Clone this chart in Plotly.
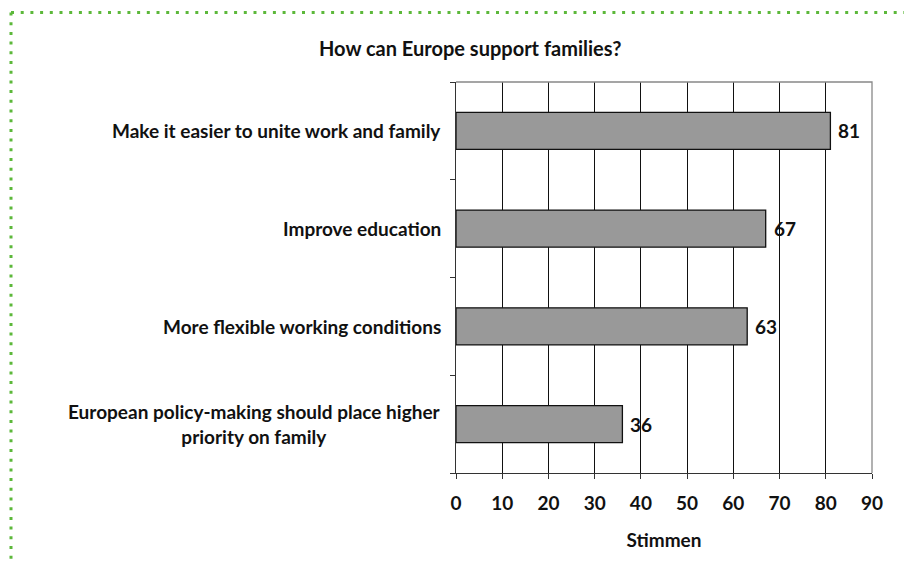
import plotly.graph_objects as go

categories = [
    "Make it easier to unite work and family",
    "Improve education",
    "More flexible working conditions",
    "European policy-making should place higher<br>priority on family",
]
values = [81, 67, 63, 36]
x_ticks = [0, 10, 20, 30, 40, 50, 60, 70, 80, 90]
title_text = "How can Europe support families?"
x_title = "Stimmen"

FONT = "Lato, 'Open Sans', sans-serif"
# page has an 8px body margin; figure sized to fill the rest of the window
W, H = 904, 557
L, R, T, B = 448, 40, 74, 92
plot_w = W - L - R
plot_h = H - T - B

def px_x(px):
    return (px - L) / plot_w

def px_y(py):
    return 1 - (py - T) / plot_h

ypos = list(range(len(categories)))

fig = go.Figure()
fig.add_trace(go.Bar(
    x=values, y=ypos, orientation="h", width=0.38,
    marker=dict(color="#999999", line=dict(color="#111111", width=1.3)),
    cliponaxis=False, hoverinfo="skip",
))

for i, (c, v) in enumerate(zip(categories, values)):
    fig.add_annotation(
        x=0, y=i, xref="x", yref="y", text="<b>%s</b>" % c,
        xanchor="right", yanchor="middle", align="center", xshift=-13,
        showarrow=False, font=dict(family=FONT, size=19, color="#111111"),
    )
    fig.add_annotation(
        x=v, y=i, xref="x", yref="y", text="<b>%d</b>" % v,
        xanchor="left", yanchor="middle", xshift=6,
        showarrow=False, font=dict(family=FONT, size=19, color="#111111"),
    )

fig.add_annotation(
    x=px_x(462), y=px_y(40), xref="paper", yref="paper", text="<b>%s</b>" % title_text,
    xanchor="center", yanchor="middle",
    showarrow=False, font=dict(family=FONT, size=20, color="#111111"),
)

# dotted green frame (top and left)
fig.add_shape(type="line", xref="paper", yref="paper",
              x0=px_x(3), x1=px_x(904), y0=px_y(4.5), y1=px_y(4.5),
              line=dict(color="#5cb83a", width=3, dash="3px,6.7px"))
fig.add_shape(type="line", xref="paper", yref="paper",
              x0=px_x(3), x1=px_x(3), y0=px_y(4.5), y1=px_y(557),
              line=dict(color="#5cb83a", width=3, dash="3px,6.7px"))
# gray top/right border
fig.add_shape(type="path", xref="paper", yref="paper",
              path="M 0 1 L 1 1 L 1 0", line=dict(color="#888888", width=1.3), layer="above")

fig.update_layout(
    width=W, height=H, margin=dict(l=L, r=R, t=T, b=B),
    paper_bgcolor="white", plot_bgcolor="white", showlegend=False,
    font=dict(family=FONT, size=19, color="#111111"),
    xaxis=dict(
        range=[0, 90], tickvals=x_ticks, ticktext=["<b>%d</b>" % v for v in x_ticks],
        showgrid=True, gridcolor="#111111", gridwidth=1,
        showline=True, linecolor="#333333", linewidth=1.3,
        ticks="outside", ticklen=5, tickcolor="#333333", ticklabelstandoff=8,
        zeroline=False, fixedrange=True,
        title=dict(text="<b>%s</b>" % x_title, standoff=20, font=dict(family=FONT, size=19)),
    ),
    yaxis=dict(
        range=[3.5, -0.5], tickvals=[-0.5, 0.5, 1.5, 2.5, 3.5], ticktext=["", "", "", "", ""],
        showgrid=False, showline=True, linecolor="#333333", linewidth=1.3,
        ticks="outside", ticklen=5, tickcolor="#333333", zeroline=False, fixedrange=True,
    ),
)

fig.write_html("out.html")
